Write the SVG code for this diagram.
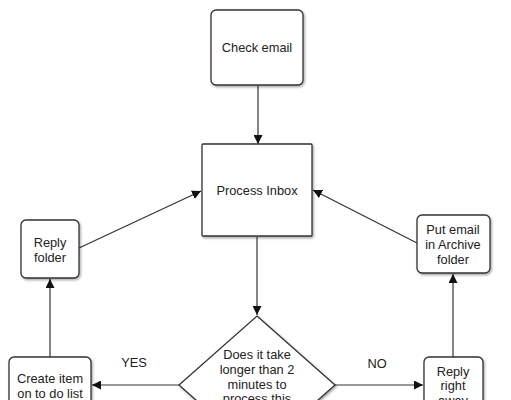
<svg xmlns="http://www.w3.org/2000/svg" width="511" height="400" viewBox="0 0 511 400">
<style>
.box{fill:#fff;stroke:#333;stroke-width:1.3;filter:url(#sh)}
.t{font-family:"Liberation Sans",Arial,sans-serif;font-size:12.8px;fill:#222;text-anchor:middle;dominant-baseline:central}
.c{fill:none;stroke:#333;stroke-width:1.2}
</style>
<defs>
<filter id="sh" x="-20%" y="-20%" width="150%" height="150%">
<feDropShadow dx="1.2" dy="1.5" stdDeviation="1" flood-color="#000" flood-opacity="0.35"/>
</filter>
<marker id="a" viewBox="0 0 10 10" refX="10" refY="5" markerWidth="9" markerHeight="9" markerUnits="userSpaceOnUse" orient="auto">
<path d="M0,0 L10,5 L0,10 z" fill="#111"/>
</marker>
</defs>
<rect width="511" height="400" fill="#fff"/>
<g id="connectors">
<line class="c" x1="258" y1="86" x2="258" y2="144" marker-end="url(#a)"/>
<line class="c" x1="79" y1="248" x2="201" y2="191" marker-end="url(#a)"/>
<line class="c" x1="417" y1="243" x2="313" y2="190" marker-end="url(#a)"/>
<line class="c" x1="257" y1="237" x2="257" y2="315" marker-end="url(#a)"/>
<line class="c" x1="50" y1="357" x2="50" y2="279" marker-end="url(#a)"/>
<line class="c" x1="453" y1="357" x2="453" y2="274" marker-end="url(#a)"/>
<line class="c" x1="179" y1="385" x2="92" y2="385" marker-end="url(#a)"/>
<line class="c" x1="335" y1="385" x2="423" y2="385" marker-end="url(#a)"/>
<text class="t" x="134" y="362">YES</text>
<text class="t" x="377" y="363">NO</text>
</g>
<g id="check-email">
<rect class="box" x="211" y="10" width="92" height="75" rx="5"/>
<text class="t" x="257" y="47">Check email</text>
</g>
<g id="process-inbox">
<rect class="box" x="202" y="144" width="110" height="92" rx="1"/>
<text class="t" x="257" y="190">Process Inbox</text>
</g>
<g id="reply-folder">
<rect class="box" x="21" y="220" width="58" height="58" rx="5"/>
<text class="t" x="50" y="242">Reply</text>
<text class="t" x="50" y="257">folder</text>
</g>
<g id="archive">
<rect class="box" x="417" y="215" width="73" height="58" rx="5"/>
<text class="t" x="453" y="229">Put email</text>
<text class="t" x="453" y="244">in Archive</text>
<text class="t" x="453" y="259">folder</text>
</g>
<g id="decision">
<polygon class="box" points="257,316 335,385 257,454 179,385"/>
<text class="t" x="257" y="354">Does it take</text>
<text class="t" x="257" y="369.5">longer than 2</text>
<text class="t" x="257" y="384">minutes to</text>
<text class="t" x="257" y="398.5">process this</text>
</g>
<g id="create-item">
<rect class="box" x="9" y="357" width="82" height="60" rx="5"/>
<text class="t" x="50" y="378">Create item</text>
<text class="t" x="50" y="393">on to do list</text>
</g>
<g id="reply-away">
<rect class="box" x="424" y="357" width="59" height="60" rx="5"/>
<text class="t" x="453" y="371">Reply</text>
<text class="t" x="453" y="385.5">right</text>
<text class="t" x="453" y="400">away</text>
</g>
</svg>
